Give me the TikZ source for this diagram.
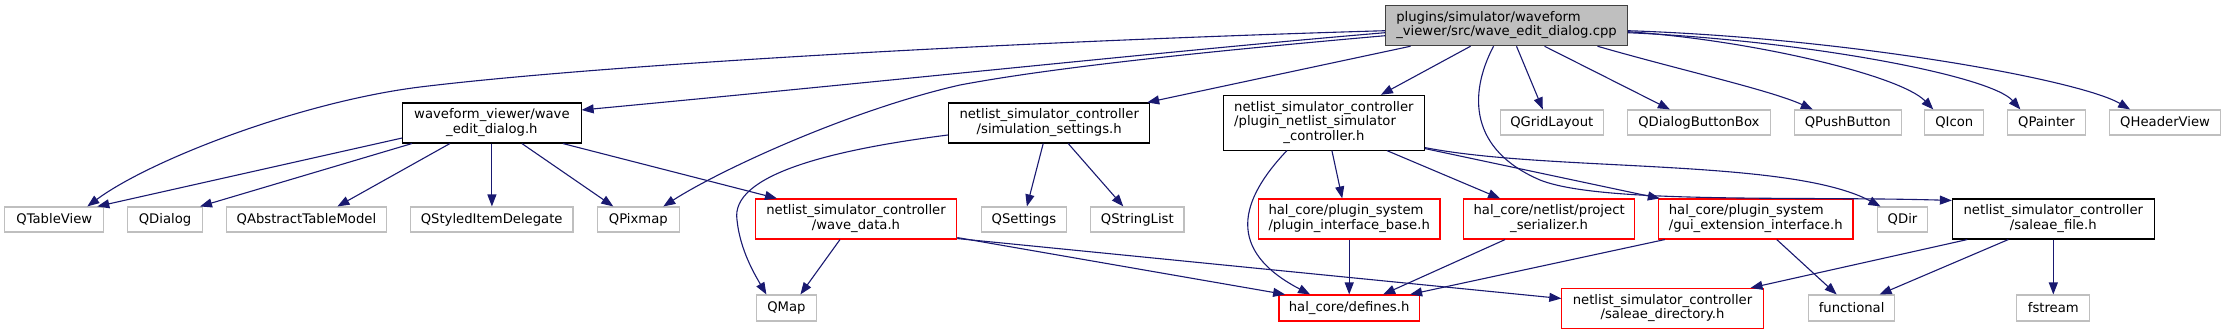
\documentclass[tikz,border=0pt]{standalone}
\usepackage{fontspec}
\setmainfont{DejaVu Sans}
\usetikzlibrary{arrows.meta}
\definecolor{edgec}{HTML}{191970}
\definecolor{extc}{HTML}{BFBFBF}
\definecolor{mainfill}{HTML}{BFBFBF}
\definecolor{mainline}{HTML}{404040}
\newcommand\mlab[2]{\begin{tabular}{@{}l@{}}#1\\\multicolumn{1}{@{}c@{}}{#2}\end{tabular}}
\newcommand\mlabc[3]{\begin{tabular}{@{}l@{}}#1\\#2\\\multicolumn{1}{@{}c@{}}{#3}\end{tabular}}
\begin{document}
\begin{tikzpicture}[x=1pt,y=-1pt,
  font=\fontsize{13.2}{14.5}\selectfont,
  base/.style={draw, line width=1.1pt, fill=white, inner sep=0pt, minimum height=40pt, text=black},
  hdr/.style={base, draw=black},
  redh/.style={base, draw=red},
  ext/.style={base, draw=extc, minimum height=25pt},
  mainn/.style={base, draw=mainline, fill=mainfill},
  edg/.style={draw=edgec, line width=1.1pt, -{Triangle[length=12pt,width=9pt]}}]
\useasboundingbox (0,0) rectangle (2226,335);

% nodes
\node[mainn, minimum width=241.6pt] (M) at (1506.5,25.7) {\mlab{plugins/simulator/waveform}{\_viewer/src/wave\_edit\_dialog.cpp}};
\node[hdr, minimum width=178.4pt] (W) at (491.9,123) {\mlab{waveform\_viewer/wave}{\_edit\_dialog.h}};
\node[hdr, minimum width=201.4pt] (S) at (1049.2,123) {\mlab{netlist\_simulator\_controller}{/simulation\_settings.h}};
\node[hdr, minimum width=201.1pt, minimum height=54.7pt] (P) at (1323.9,122.7) {\mlabc{netlist\_simulator\_controller}{/plugin\_netlist\_simulator}{\_controller.h}};

\node[ext, minimum width=102.8pt] (QGL) at (1551.8,122.5) {QGridLayout};
\node[ext, minimum width=142.7pt] (QDBB) at (1698.9,122.5) {QDialogButtonBox};
\node[ext, minimum width=106.6pt] (QPB) at (1847.8,122.5) {QPushButton};
\node[ext, minimum width=59pt] (QIcon) at (1954.3,122.5) {QIcon};
\node[ext, minimum width=77.6pt] (QPainter) at (2046.4,122.5) {QPainter};
\node[ext, minimum width=111.4pt] (QHV) at (2165.1,122.5) {QHeaderView};

\node[ext, minimum width=99pt] (QTV) at (54.3,219.5) {QTableView};
\node[ext, minimum width=74.6pt] (QDialog) at (165,219.5) {QDialog};
\node[ext, minimum width=160.3pt] (QATM) at (306.4,219.5) {QAbstractTableModel};
\node[ext, minimum width=162.6pt] (QSID) at (491.7,219.5) {QStyledItemDelegate};
\node[ext, minimum width=81.8pt] (QPix) at (638.3,219.5) {QPixmap};
\node[redh, minimum width=201.4pt] (WD) at (856,219) {\mlab{netlist\_simulator\_controller}{/wave\_data.h}};
\node[ext, minimum width=84.7pt] (QSet) at (1023.9,219.5) {QSettings};
\node[ext, minimum width=93.3pt] (QSL) at (1137.3,219.5) {QStringList};
\node[redh, minimum width=181.5pt] (PIB) at (1349.2,219) {\mlab{hal\_core/plugin\_system}{/plugin\_interface\_base.h}};
\node[redh, minimum width=170.8pt] (PS) at (1549.1,219) {\mlab{hal\_core/netlist/project}{\_serializer.h}};
\node[redh, minimum width=194.6pt] (GUI) at (1755.7,219) {\mlab{hal\_core/plugin\_system}{/gui\_extension\_interface.h}};
\node[ext, minimum width=50.4pt] (QDir) at (1902.5,219.5) {QDir};
\node[hdr, minimum width=201.8pt] (SF) at (2053.3,219) {\mlab{netlist\_simulator\_controller}{/saleae\_file.h}};

\node[ext, minimum width=60.2pt, minimum height=26pt] (QMap) at (786.4,308) {QMap};
\node[redh, minimum width=140.2pt, minimum height=26pt] (DEF) at (1349.1,308) {hal\_core/defines.h};
\node[redh, minimum width=201.3pt] (SD) at (1662.5,308.5) {\mlab{netlist\_simulator\_controller}{/saleae\_directory.h}};
\node[ext, minimum width=86.6pt, minimum height=26pt] (FUN) at (1851.6,308) {functional};
\node[ext, minimum width=73.2pt, minimum height=26pt] (FST) at (2053.3,308) {fstream};

% edges
\draw[edg] ([yshift=-5pt]M.west) .. controls (1000,42) and (600,65) .. (420,87) .. controls (300,102) and (150,160) .. ([xshift=33pt]QTV.north);
\draw[edg] ([yshift=-7pt]M.west) .. controls (1200,48) and (900,80) .. ([yshift=13pt]W.east);
\draw[edg] ([yshift=-10pt]M.west) .. controls (1200,52) and (1050,68) .. (960,85) .. controls (850,110) and (720,170) .. ([xshift=25pt]QPix.north);
\draw[edg] ([xshift=-96pt]M.south) -- ([xshift=98pt]S.north);
\draw[edg] ([xshift=-36pt]M.south) -- ([xshift=57pt]P.north);
\draw[edg] ([xshift=10pt]M.south) -- ([xshift=-9pt]QGL.north);
\draw[edg] ([xshift=38pt]M.south) -- ([xshift=-29pt]QDBB.north);
\draw[edg] ([xshift=91pt]M.south) .. controls (1680,70) and (1770,90) .. ([xshift=-35pt]QPB.north);
\draw[edg] ([yshift=-6pt]M.east) .. controls (1750,40) and (1900,75) .. ([xshift=-21pt]QIcon.north);
\draw[edg] ([yshift=-7pt]M.east) .. controls (1800,40) and (1990,75) .. ([xshift=-26pt]QPainter.north);
\draw[edg] ([yshift=-5pt]M.east) .. controls (1850,38) and (2080,80) .. ([xshift=-35pt]QHV.north);
\draw[edg] ([xshift=-13pt]M.south) .. controls (1468,95) and (1470,150) .. (1540,180) .. controls (1600,204) and (1800,196) .. ([yshift=-2pt]SF.north west);

\draw[edg] ([yshift=3pt]P.south east) .. controls (1550,172) and (1790,158) .. ([xshift=-22pt]QDir.north);
\draw[edg] ([yshift=2pt]P.south east) -- ([xshift=2pt]GUI.north west);
\draw[edg] ([xshift=-37pt]P.south) .. controls (1240,200) and (1225,250) .. ([xshift=-39pt]DEF.north);
\draw[edg] ([xshift=8pt]P.south) -- ([xshift=-7pt]PIB.north);
\draw[edg] ([xshift=63pt]P.south) -- ([xshift=-49pt]PS.north);

\draw[edg] ([yshift=-15pt]W.west) -- ([xshift=43pt]QTV.north);
\draw[edg] ([xshift=-80pt]W.south) -- ([xshift=35pt]QDialog.north);
\draw[edg] ([xshift=-42pt]W.south) -- ([xshift=31pt]QATM.north);
\draw[edg] (W.south) -- (W.south |- QSID.north);
\draw[edg] ([xshift=30pt]W.south) -- ([xshift=-25pt]QPix.north);
\draw[edg] ([xshift=71pt]W.south) -- ([xshift=-79pt]WD.north);

\draw[edg] ([yshift=-12pt]S.west) .. controls (830,150) and (730,175) .. (737,220) .. controls (740,250) and (755,275) .. ([xshift=-20pt]QMap.north);
\draw[edg] ([xshift=-6pt]S.south) -- ([xshift=3pt]QSet.north);
\draw[edg] ([xshift=19pt]S.south) -- ([xshift=-14pt]QSL.north);

\draw[edg] ([xshift=-16pt]WD.south) -- ([xshift=14pt]QMap.north);
\draw[edg] ([yshift=2pt]WD.south east) -- ([xshift=-64pt]DEF.north);
\draw[edg] ([yshift=1pt]WD.south east) -- ([yshift=10pt]SD.west);

\draw[edg] (PIB.south) -- (PIB.south |- DEF.north);
\draw[edg] ([xshift=-44pt]PS.south) -- ([xshift=34pt]DEF.north);
\draw[edg] ([xshift=7pt]GUI.south west) -- ([xshift=61pt]DEF.north);
\draw[edg] ([xshift=21pt]GUI.south) -- ([xshift=-15pt]FUN.north);
\draw[edg] ([xshift=-86pt]SF.south) -- ([xshift=88pt]SD.north);
\draw[edg] ([xshift=-45pt]SF.south) -- ([xshift=28pt]FUN.north);
\draw[edg] (SF.south) -- (FST.north);
\end{tikzpicture}
\end{document}
